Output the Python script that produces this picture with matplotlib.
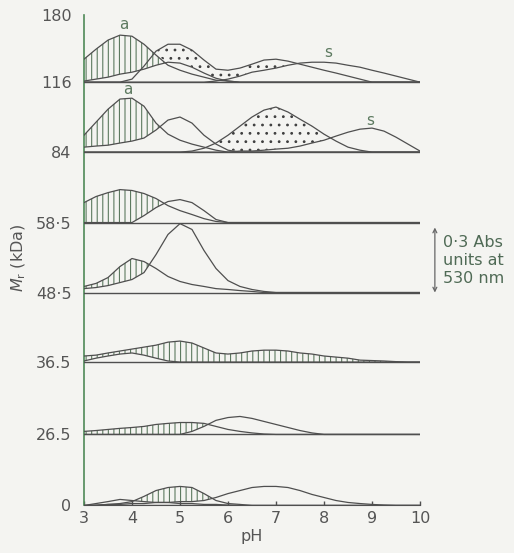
import numpy as np
import matplotlib.pyplot as plt

plt.rcParams['font.family'] = 'DejaVu Sans'
plt.rcParams['mathtext.fontset'] = 'dejavusans'
plt.rcParams['hatch.linewidth'] = 0.8

ph = [3.00, 3.25, 3.50, 3.75, 4.00, 4.25, 4.50, 4.75, 5.00, 5.25,
      5.50, 5.75, 6.00, 6.25, 6.50, 6.75, 7.00, 7.25, 7.50, 7.75,
      8.00, 8.25, 8.50, 8.75, 9.00, 9.25, 9.50, 9.75, 10.00]
N = len(ph)


def pad(v):
    # profiles are zero past the last value read
    return np.array(v + [0.0] * (N - len(v)))


# absorbance at 530 nm above each baseline
mr116_a = pad([0.106, 0.152, 0.194, 0.217, 0.212, 0.175, 0.125, 0.078, 0.055, 0.037, 0.023, 0.009, 0.005])
mr116_b = pad([0.005, 0.014, 0.023, 0.037, 0.046, 0.060, 0.078, 0.092, 0.088, 0.069, 0.042, 0.018, 0.005])
mr116_c = pad([0, 0, 0, 0, 0.014, 0.074, 0.143, 0.175, 0.175, 0.148, 0.102, 0.060, 0.055, 0.065,
               0.083, 0.102, 0.106, 0.097, 0.083, 0.069, 0.055, 0.042, 0.028, 0.014])
mr116_s = pad([0, 0, 0, 0, 0, 0, 0, 0, 0, 0, 0, 0.005, 0.014, 0.028, 0.046, 0.055, 0.065, 0.078,
               0.088, 0.092, 0.092, 0.088, 0.078, 0.069, 0.055, 0.042, 0.028, 0.014, 0])

mr84_a = pad([0.078, 0.138, 0.198, 0.245, 0.249, 0.212, 0.134, 0.083, 0.055, 0.037, 0.023, 0.009])
mr84_b = pad([0.023, 0.028, 0.032, 0.042, 0.051, 0.065, 0.102, 0.148, 0.162, 0.134, 0.078, 0.037, 0.009])
mr84_c = pad([0, 0, 0, 0, 0, 0, 0, 0, 0, 0.005, 0.018, 0.042, 0.078, 0.120, 0.162, 0.194, 0.208,
              0.185, 0.152, 0.120, 0.083, 0.051, 0.023, 0.009])
mr84_s = pad([0, 0, 0, 0, 0, 0, 0, 0, 0, 0, 0, 0, 0, 0.005, 0.005, 0.009, 0.014, 0.018, 0.028,
              0.042, 0.055, 0.074, 0.092, 0.106, 0.111, 0.097, 0.069, 0.037, 0.005])

mr58_a = pad([0.092, 0.120, 0.138, 0.152, 0.148, 0.134, 0.111, 0.078, 0.055, 0.037, 0.018, 0.005])
mr58_b = pad([0, 0, 0, 0, 0, 0.032, 0.069, 0.097, 0.106, 0.092, 0.055, 0.014])

mr48_a = pad([0.028, 0.042, 0.069, 0.120, 0.157, 0.143, 0.111, 0.074, 0.051, 0.037, 0.028, 0.018,
              0.014, 0.009, 0.005])
mr48_b = pad([0.018, 0.023, 0.032, 0.046, 0.060, 0.092, 0.175, 0.268, 0.318, 0.291, 0.194, 0.111,
              0.055, 0.028, 0.014, 0.005])

mr36_a = pad([0.028, 0.032, 0.042, 0.051, 0.060, 0.069, 0.078, 0.092, 0.097, 0.088, 0.065, 0.042,
              0.037, 0.042, 0.051, 0.055, 0.055, 0.051, 0.042, 0.037, 0.028, 0.023, 0.018, 0.009,
              0.007, 0.005, 0.002])
mr36_b = pad([0.005, 0.018, 0.028, 0.037, 0.042, 0.032, 0.018, 0.005])

mr26_a = pad([0.014, 0.018, 0.023, 0.028, 0.032, 0.037, 0.046, 0.051, 0.055, 0.055, 0.051, 0.037,
              0.023, 0.014, 0.007, 0.002])
mr26_b = pad([0, 0, 0, 0, 0, 0, 0, 0, 0, 0.014, 0.037, 0.065, 0.078, 0.083, 0.074, 0.060, 0.046,
              0.032, 0.018, 0.007])

mr0_a = pad([0, 0.009, 0.018, 0.028, 0.023, 0.018, 0.014, 0.014, 0.009, 0.009, 0.005, 0.005, 0.002])
mr0_b = pad([0, 0.002, 0.005, 0.009, 0.018, 0.042, 0.069, 0.083, 0.088, 0.083, 0.055, 0.023, 0.009, 0.005])
mr0_c = pad([0, 0, 0.005, 0.005, 0.009, 0.009, 0.014, 0.014, 0.018, 0.018, 0.023, 0.037, 0.055,
             0.069, 0.083, 0.088, 0.088, 0.083, 0.069, 0.051, 0.037, 0.023, 0.014, 0.009, 0.005, 0.002])

mr_labels = ['0', '26.5', '36.5', '48·5', '58·5', '84', '116', '180']
scale_abs = 0.3

# layout: baseline of each trace (in absorbance units) and top of the axis
baselines = [0.0, 0.328, 0.662, 0.983, 1.306, 1.631, 1.954]
y_top = 2.264

line_c = '#4f4f4f'
text_c = '#555555'
green = '#4f8a58'
hatch_c = '#5d7a60'

fig = plt.figure(figsize=(5.14, 5.53), dpi=100)
fig.patch.set_facecolor('#f4f4f1')
ax = fig.add_axes([0.1634, 0.0859, 0.6537, 0.887])
ax.set_facecolor('none')

x = np.array(ph)


def draw_panel(base, curves, hatch=None, dots=None):
    ax.plot([3, 10], [base, base], color=line_c, lw=1.0, zorder=3)
    for c in curves:
        ax.plot(x, base + c, color=line_c, lw=0.9, zorder=3, solid_joinstyle='round')
    for spec, pattern, col in ((hatch, '|||', hatch_c), (dots, '..', '#3f3f3f')):
        if spec is None:
            continue
        top, lows = spec
        low = np.max(np.vstack(lows), axis=0)
        ax.fill_between(x, base + low, base + top, where=top > low, interpolate=True,
                        facecolor='none', edgecolor=col, linewidth=0, hatch=pattern, zorder=2)


draw_panel(baselines[6], [mr116_a, mr116_b, mr116_c, mr116_s],
           hatch=(mr116_a, [mr116_b]), dots=(mr116_c, [mr116_a, mr116_b, mr116_s]))
draw_panel(baselines[5], [mr84_a, mr84_b, mr84_c, mr84_s],
           hatch=(mr84_a, [mr84_b]), dots=(mr84_c, [mr84_b, mr84_s]))
draw_panel(baselines[4], [mr58_a, mr58_b], hatch=(mr58_a, [mr58_b]))
draw_panel(baselines[3], [mr48_a, mr48_b], hatch=(mr48_a, [mr48_b]))
draw_panel(baselines[2], [mr36_a, mr36_b], hatch=(mr36_a, [mr36_b]))
draw_panel(baselines[1], [mr26_a, mr26_b], hatch=(mr26_a, [mr26_b]))
draw_panel(baselines[0], [mr0_a, mr0_b, mr0_c], hatch=(mr0_b, [mr0_a, mr0_c]))

# peak labels
ax.text(3.83, 2.222, 'a', ha='center', va='center', fontsize=11, color=hatch_c)
ax.text(8.08, 2.093, 's', ha='center', va='center', fontsize=11, color=hatch_c)
ax.text(3.92, 1.922, 'a', ha='center', va='center', fontsize=11, color=hatch_c, zorder=1)
ax.text(8.96, 1.779, 's', ha='center', va='center', fontsize=11, color=hatch_c)

# absorbance scale bar
ax.annotate('', xy=(10.31, baselines[3]), xytext=(10.31, baselines[3] + scale_abs),
            arrowprops=dict(arrowstyle='<->', color='#666666', lw=0.9, shrinkA=0, shrinkB=0,
                            mutation_scale=7),
            annotation_clip=False)
ax.text(10.48, baselines[3] + 0.15, '0·3 Abs\nunits at\n530 nm', ha='left', va='center',
        fontsize=11.5, color='#4f6a55', linespacing=1.25, clip_on=False)

ax.set_xlim(3, 10)
ax.set_ylim(0, y_top)
ax.set_xticks(range(3, 11))
ax.set_xticklabels([str(v) for v in range(3, 11)])
ax.set_yticks(baselines + [y_top])
ax.set_yticklabels(mr_labels)
ax.tick_params(axis='x', direction='in', length=3, width=1, color=line_c, pad=4,
               labelsize=11.5, labelcolor=text_c)
ax.tick_params(axis='y', length=0, pad=9, labelsize=11.5, labelcolor=text_c)
ax.spines['top'].set_visible(False)
ax.spines['right'].set_visible(False)
ax.spines['left'].set_color(green)
ax.spines['left'].set_linewidth(1.2)
ax.spines['bottom'].set_color(line_c)
ax.set_xlabel('pH', fontsize=11.5, color=text_c, labelpad=2)

fig.text(0.037, 0.533, r'$M_\mathrm{r}$ (kDa)', rotation=90, ha='center', va='center',
         fontsize=11.5, color=text_c)

fig.savefig('out.png', dpi=100, facecolor=fig.get_facecolor())
